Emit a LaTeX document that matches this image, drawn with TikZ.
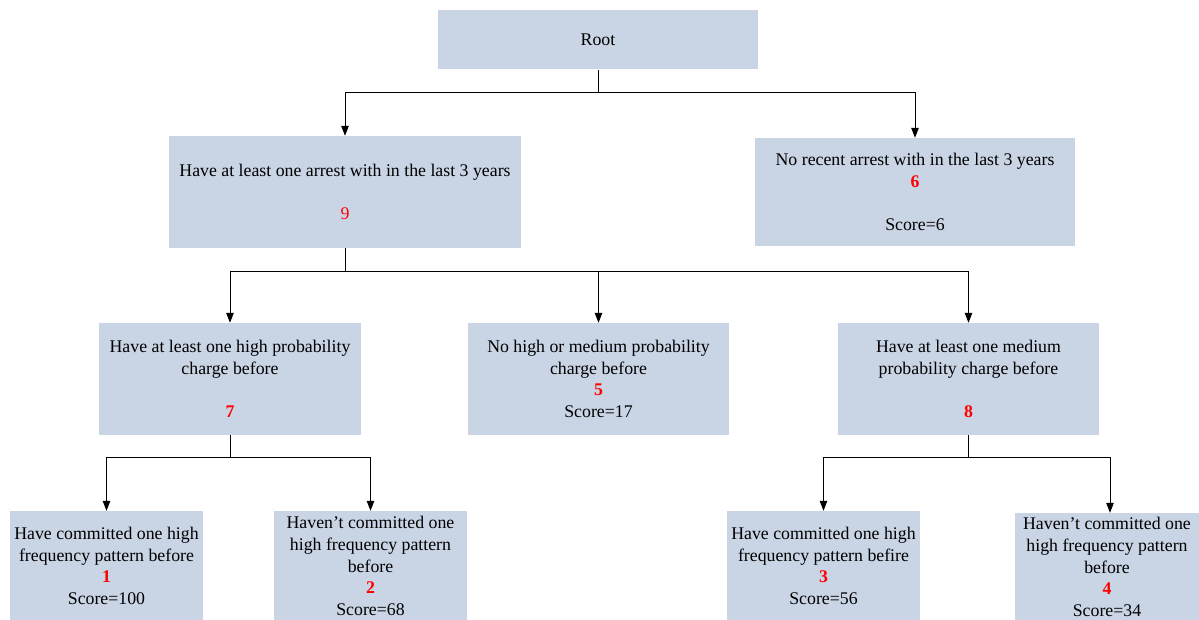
\documentclass[tikz,border=0pt]{standalone}
\usepackage{fontspec}
\setmainfont{Liberation Serif}
\usetikzlibrary{arrows.meta}
\definecolor{boxblue}{RGB}{201,213,229}
\tikzset{
  box/.style={fill=boxblue, inner sep=0pt, align=center,
    font=\fontsize{17.8}{21.8}\selectfont},
  arr/.style={-{Triangle[width=7.5pt,length=10pt]}, line width=1pt},
  ln/.style={line width=1pt}
}
\newcommand{\rn}[1]{\textcolor{red}{\textbf{#1}}}
\begin{document}
\begin{tikzpicture}[x=1pt,y=-1pt]
\useasboundingbox (0,0) rectangle (1199,620);
\node[box, minimum width=320pt, minimum height=59pt] (root) at (598,40) {Root};
\node[box, minimum width=352pt, minimum height=112pt] (A) at (345,192) {Have at least one arrest with in the last 3 years\\[21.8pt]\textcolor{red}{9}};
\node[box, minimum width=320pt, minimum height=108pt] (B) at (915,192) {No recent arrest with in the last 3 years\\\rn{6}\\[21.8pt]Score=6};
\node[box, minimum width=262pt, minimum height=112pt] (C) at (230,379) {Have at least one high probability\\charge before\\[21.8pt]\rn{7}};
\node[box, minimum width=261pt, minimum height=112pt] (D) at (598.5,379) {No high or medium probability\\charge before\\\rn{5}\\Score=17};
\node[box, minimum width=261pt, minimum height=112pt] (E) at (968.5,379) {Have at least one medium\\probability charge before\\[21.8pt]\rn{8}};
\node[box, minimum width=193pt, minimum height=110pt] (F) at (106.5,566) {Have committed one high\\frequency pattern before\\\rn{1}\\Score=100};
\node[box, minimum width=193pt, minimum height=110pt] (G) at (370.5,566) {Haven't committed one\\high frequency pattern\\before\\\rn{2}\\Score=68};
\node[box, minimum width=193pt, minimum height=110pt] (H) at (823.5,566) {Have committed one high\\frequency pattern befire\\\rn{3}\\Score=56};
\node[box, minimum width=184pt, minimum height=108pt] (I) at (1107,567) {Haven't committed one\\high frequency pattern\\before\\\rn{4}\\Score=34};
\coordinate (j1) at (598,93);
\coordinate (j2) at (345,272);
\coordinate (j3) at (230,457);
\coordinate (j4) at (968.5,457);
\draw[ln] (root.south) -- (j1);
\draw[arr] (j1) -| (A.north);
\draw[arr] (j1) -| (B.north);
\draw[ln] (A.south) -- (j2);
\draw[arr] (j2) -| (C.north);
\draw[arr] (j2) -| (D.north);
\draw[arr] (j2) -| (E.north);
\draw[ln] (C.south) -- (j3);
\draw[arr] (j3) -| (F.north);
\draw[arr] (j3) -| (G.north);
\draw[ln] (E.south) -- (j4);
\draw[arr] (j4) -| (H.north);
\draw[arr] (j4) -| ([xshift=3pt]I.north);
\end{tikzpicture}
\end{document}
